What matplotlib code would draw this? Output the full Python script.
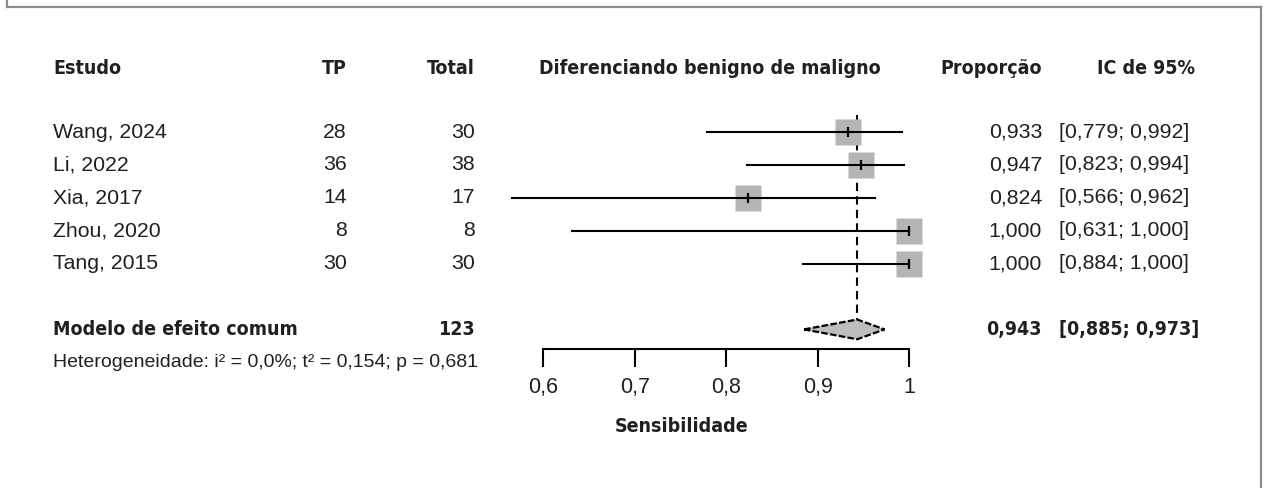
import matplotlib
matplotlib.use("Agg")
import matplotlib.pyplot as plt
import matplotlib.transforms as mtransforms
from matplotlib import font_manager
from matplotlib.lines import Line2D
from matplotlib.patches import Polygon

# ── Data ──────────────────────────────────────────────────────────────────────
studies = ["Wang, 2024", "Li, 2022", "Xia, 2017", "Zhou, 2020", "Tang, 2015"]
tp      = [28, 36, 14, 8, 30]
total   = [30, 38, 17, 8, 30]
prop    = [0.933, 0.947, 0.824, 1.000, 1.000]
ci_lo   = [0.779, 0.823, 0.566, 0.631, 0.884]
ci_hi   = [0.992, 0.994, 0.962, 1.000, 1.000]

pooled_label = "Modelo de efeito comum"
pooled_n     = 123
pooled       = 0.943
pooled_lo    = 0.885
pooled_hi    = 0.973
het_text     = "Heterogeneidade: i² = 0,0%; t² = 0,154; p = 0,681"

xticks      = [0.6, 0.7, 0.8, 0.9, 1.0]
xticklabels = ["0,6", "0,7", "0,8", "0,9", "1"]

headers = ["Estudo", "TP", "Total", "Diferenciando benigno de maligno",
           "Proporção", "IC de 95%"]
xlabel  = "Sensibilidade"

# ── Fonts: look for a condensed bold face, else plain Liberation Sans ────────
cond = [f for f in font_manager.fontManager.ttflist
        if ("narrow" in f.name.lower() or "condensed" in f.name.lower()
            or f.stretch in ("condensed", "semi-condensed", 600, 700))
        and f.weight in ("bold", 700) and f.style == "normal"]
if cond:
    BOLD = dict(fname=cond[0].fname)
    BOLD_FS = 14.0
else:
    BOLD = dict(family=["Liberation Sans", "DejaVu Sans"], weight="bold")
    BOLD_FS = 14.8
FONT = ["Liberation Sans", "DejaVu Sans"]
REG_FS = 15.3

# ── Layout (pixels of a 1267x488 canvas) ─────────────────────────────────────
W, H = 1267, 488
ROW0, DROW = 66.2, 32.9          # pixel y of row 0 and row step
X06, X10   = 543.3, 909.3        # pixel x of 0.6 and 1.0
AXIS_Y     = 349
SQ_COL = "#b5b5b5"
TCOL   = "#231f20"

def fx(px):
    return px / W

def bprop(size):
    return font_manager.FontProperties(size=size, **BOLD)

fig = plt.figure(figsize=(W / 100, H / 100), dpi=100)
fig.patch.set_facecolor("white")

top_row = -0.5
bot_row = (AXIS_Y - ROW0) / DROW
ax_h_px = AXIS_Y - (ROW0 + DROW * top_row)
ax = fig.add_axes([fx(X06), 1 - AXIS_Y / H, (X10 - X06) / W, ax_h_px / H])
ax.set_xlim(xticks[0], xticks[-1])
ax.set_ylim(bot_row, top_row)
ax.patch.set_alpha(0)
for s in ["top", "left", "right"]:
    ax.spines[s].set_visible(False)
ax.spines["bottom"].set_linewidth(1.5)
ax.yaxis.set_visible(False)
ax.set_xticks(xticks)
ax.set_xticklabels(xticklabels, family=FONT, fontsize=15.5, color=TCOL)
ax.tick_params(axis="x", length=13, width=1.5, pad=7, direction="out")
ax.set_xlabel(xlabel, fontproperties=bprop(BOLD_FS), color=TCOL)
ax.xaxis.set_label_coords((681.7 - X06) / (X10 - X06), -(427 - AXIS_Y) / ax_h_px)
ax.xaxis.label.set_va("center")

study_rows = [2 + i for i in range(len(studies))]
pooled_row = 8
het_row    = 9

# ── Forest marks ─────────────────────────────────────────────────────────────
ax.plot([pooled, pooled], [1.48, pooled_row - 0.29], color="black", lw=1.5,
        ls=(0, (4, 2.5)), clip_on=False, zorder=1)
for r, p, lo, hi in zip(study_rows, prop, ci_lo, ci_hi):
    ax.plot(p, r, marker="s", ms=18.7, color=SQ_COL, mec="none",
            clip_on=False, zorder=2)
    ax.plot([lo, hi], [r, r], color="black", lw=1.5, clip_on=False, zorder=3)
    ax.plot(p, r, marker="|", ms=7, mew=1.6, color="black",
            clip_on=False, zorder=4)

dia = Polygon([[pooled_lo, pooled_row], [pooled, pooled_row - 0.3],
               [pooled_hi, pooled_row], [pooled, pooled_row + 0.3]],
              closed=True, facecolor="#bdbdbd", edgecolor="black", lw=1.6,
              ls=(0, (3, 1)), clip_on=False, zorder=3)
ax.add_patch(dia)

# ── Text columns ─────────────────────────────────────────────────────────────
tr = mtransforms.blended_transform_factory(fig.transFigure, ax.transData)
hdr_row = 0.08
hb = dict(transform=tr, fontproperties=bprop(BOLD_FS), color=TCOL, va="center")
ax.text(fx(53), hdr_row, headers[0], ha="left", **hb)
ax.text(fx(347), hdr_row, headers[1], ha="right", **hb)
ax.text(fx(475), hdr_row, headers[2], ha="right", **hb)
ax.text(fx(710), hdr_row, headers[3], ha="center", **hb)
ax.text(fx(1042), hdr_row, headers[4], ha="right", **hb)
ax.text(fx(1195), hdr_row, headers[5], ha="right", **hb)

fmt = lambda v: f"{v:.3f}".replace(".", ",")
rb = dict(transform=tr, family=FONT, fontsize=REG_FS, color=TCOL, va="center")
for r, name, a, n, p, lo, hi in zip(study_rows, studies, tp, total, prop,
                                    ci_lo, ci_hi):
    ax.text(fx(53), r, name, ha="left", **rb)
    ax.text(fx(347), r, str(a), ha="right", **rb)
    ax.text(fx(475), r, str(n), ha="right", **rb)
    ax.text(fx(1042), r, fmt(p), ha="right", **rb)
    ax.text(fx(1059), r, f"[{fmt(lo)}; {fmt(hi)}]", ha="left", **rb)

ax.text(fx(53), pooled_row, pooled_label, ha="left", **hb)
ax.text(fx(475), pooled_row, str(pooled_n), ha="right", **hb)
ax.text(fx(1042), pooled_row, fmt(pooled), ha="right", **hb)
ax.text(fx(1059), pooled_row, f"[{fmt(pooled_lo)}; {fmt(pooled_hi)}]",
        ha="left", **hb)
ax.text(fx(53), het_row, het_text, ha="left", transform=tr, family=FONT,
        fontsize=14, color=TCOL, va="center")

# ── Frame around the figure (open at the bottom) ─────────────────────────────
fc = "#8c8c8c"
for xs, ys in [([7, 7], [0, 7]), ([7, 1261], [7, 7]), ([1261, 1261], [7, 488])]:
    fig.add_artist(Line2D([fx(x) for x in xs], [1 - y / H for y in ys],
                          color=fc, lw=1.6))

fig.savefig("out.png", dpi=100)
plt.close(fig)
